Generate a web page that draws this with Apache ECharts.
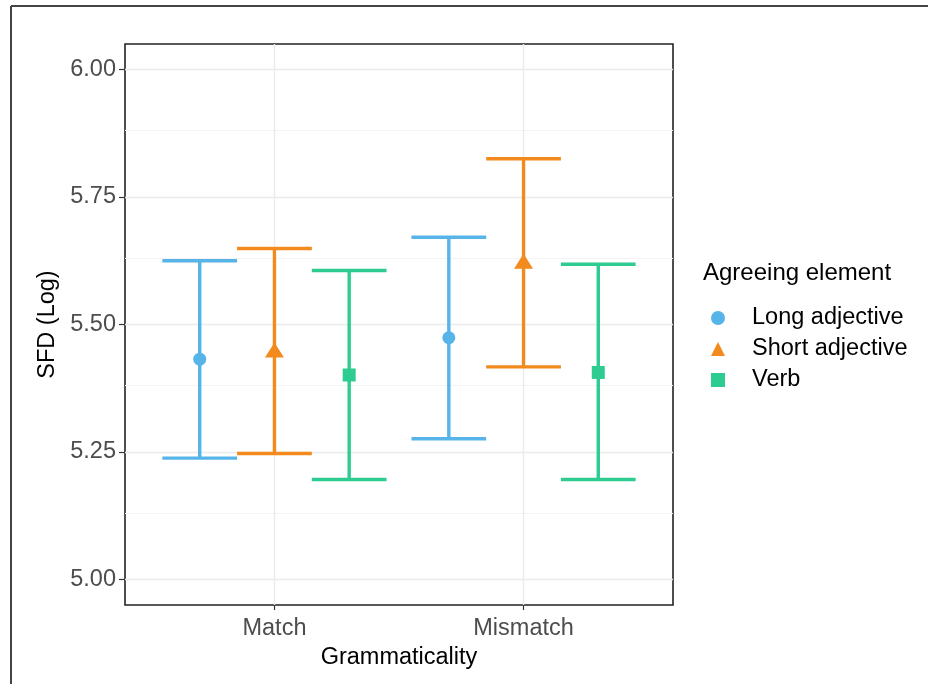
<!DOCTYPE html>
<html>
<head>
<meta charset="utf-8">
<script src="https://cdn.jsdelivr.net/npm/echarts@6/dist/echarts.min.js"></script>
<style>
html,body{margin:0;padding:0;background:#fff;}
#chart{width:928px;height:684px;}
</style>
</head>
<body>
<div id="chart"></div>
<script>
// ---- data ----
const categories = ['Match', 'Mismatch'];
const groups = ['Long adjective', 'Short adjective', 'Verb'];
const meanLong  = [5.432, 5.474];
const lowLong   = [5.238, 5.276];
const highLong  = [5.625, 5.671];
const meanShort = [5.450, 5.624];
const lowShort  = [5.247, 5.417];
const highShort = [5.649, 5.825];
const meanVerb  = [5.401, 5.406];
const lowVerb   = [5.196, 5.196];
const highVerb  = [5.606, 5.618];
const yTickValues = [5.00, 5.25, 5.50, 5.75, 6.00];
const yMinorValues = [5.125, 5.375, 5.625, 5.875];

// ---- layout / style ----
const colors = ['#56B4E9', '#F28A1E', '#2ECC91'];
const symbols = ['circle', 'triangle', 'rect'];
const symbolSizes = [13, [19, 15], 13];
const dodge = 0.3;      // offset between groups (category units)
const capWidth = 0.3;   // errorbar cap width (category units)
const font = 'Liberation Sans, Arial, Helvetica, sans-serif';

const means = [meanLong, meanShort, meanVerb];
const lows = [lowLong, lowShort, lowVerb];
const highs = [highLong, highShort, highVerb];
const catPos = categories.map((c, i) => i + 1);

const series = [];
// gridlines via markLine (on an empty series)
series.push({
  type: 'line', data: [], silent: true, z: 0,
  markLine: {
    silent: true, z: 0, symbol: ['none', 'none'], label: {show: false}, animation: false,
    data: [
      ...yMinorValues.map(v => ({yAxis: v, lineStyle: {color: '#F3F3F3', width: 1, type: 'solid'}})),
      ...yTickValues.map(v => ({yAxis: v, lineStyle: {color: '#EBEBEB', width: 1.4, type: 'solid'}})),
      ...catPos.map(v => ({xAxis: v, lineStyle: {color: '#EBEBEB', width: 1.4, type: 'solid'}}))
    ]
  }
});

groups.forEach((g, gi) => {
  const off = (gi - 1) * dodge;
  series.push({
    type: 'custom',
    name: g + ' CI',
    z: 2,
    silent: true,
    data: catPos.map((p, ci) => [p + off, lows[gi][ci], highs[gi][ci]]),
    renderItem: function (params, api) {
      const x = api.value(0), lo = api.value(1), hi = api.value(2);
      const pHi = api.coord([x, hi]);
      const pLo = api.coord([x, lo]);
      const hw = api.size([capWidth / 2, 0])[0];
      const style = {stroke: colors[gi], lineWidth: 3.4, fill: null};
      return {
        type: 'group',
        children: [
          {type: 'line', shape: {x1: pHi[0], y1: pHi[1], x2: pLo[0], y2: pLo[1]}, style: style},
          {type: 'line', shape: {x1: pHi[0] - hw, y1: pHi[1], x2: pHi[0] + hw, y2: pHi[1]}, style: style},
          {type: 'line', shape: {x1: pLo[0] - hw, y1: pLo[1], x2: pLo[0] + hw, y2: pLo[1]}, style: style}
        ]
      };
    }
  });
  series.push({
    type: 'scatter',
    name: g,
    z: 3,
    symbol: symbols[gi],
    symbolSize: symbolSizes[gi],
    itemStyle: {color: colors[gi], opacity: 1},
    data: catPos.map((p, ci) => [p + off, means[gi][ci]])
  });
});

const chart = echarts.init(document.getElementById('chart'), null, {renderer: 'canvas'});
chart.setOption({
  animation: false,
  backgroundColor: '#ffffff',
  grid: {
    left: 125, top: 44, width: 548, height: 561,
    show: true, borderColor: '#222', borderWidth: 1.6, backgroundColor: 'transparent'
  },
  xAxis: {
    type: 'value', min: 0.4, max: 2.6,
    name: 'Grammaticality', nameLocation: 'middle', nameGap: 38,
    nameTextStyle: {fontSize: 23.5, color: '#000', fontFamily: font},
    axisLine: {show: false},
    splitLine: {show: false},
    axisTick: {show: true, customValues: catPos, length: 5, inside: false, lineStyle: {color: '#333', width: 1.2}},
    axisLabel: {
      customValues: catPos, margin: 12, fontSize: 23.5, color: '#4D4D4D', fontFamily: font,
      formatter: v => categories[Math.round(v) - 1] || ''
    }
  },
  yAxis: {
    type: 'value', min: 4.95, max: 6.05,
    name: 'SFD (Log)', nameLocation: 'middle', nameGap: 63, nameRotate: 90,
    nameTextStyle: {fontSize: 23.5, color: '#000', fontFamily: font},
    axisLine: {show: false},
    splitLine: {show: false},
    axisTick: {show: true, customValues: yTickValues, length: 6, lineStyle: {color: '#333', width: 1.2}},
    axisLabel: {
      customValues: yTickValues, margin: 9, fontSize: 23.5, color: '#4D4D4D', fontFamily: font,
      formatter: v => v.toFixed(2)
    }
  },
  legend: {
    orient: 'vertical', left: 706, top: 300,
    itemWidth: 14, itemHeight: 14, itemGap: 5,
    data: groups,
    textStyle: {fontSize: 23.5, lineHeight: 26, color: '#000', fontFamily: font, padding: [0, 0, 0, 22]}
  },
  graphic: [
    {type: 'text', left: 703, top: 261, style: {text: 'Agreeing element', fontSize: 24, fill: '#000', fontFamily: font}},
    {type: 'line', shape: {x1: 11, y1: 6, x2: 11, y2: 684}, style: {stroke: '#444', lineWidth: 2}},
    {type: 'line', shape: {x1: 11, y1: 6, x2: 928, y2: 6}, style: {stroke: '#444', lineWidth: 2}}
  ],
  series: series
});
</script>
</body>
</html>
